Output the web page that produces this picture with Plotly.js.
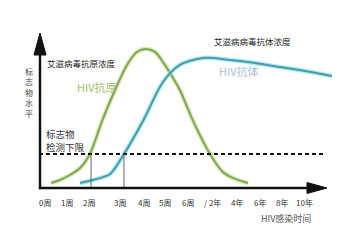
<!DOCTYPE html>
<html><head><meta charset="utf-8">
<script src="https://cdn.plot.ly/plotly-3.0.1.min.js"></script>
<style>html,body{margin:0;padding:0;background:#fff}#c{width:360px;height:242px}</style>
</head><body><div id="c"></div>
<script>
// time axis (schematic index units) and marker levels
const antigenX = [0.26,0.64,1.06,1.49,1.91,2.43,2.98,3.49,3.91,4.30,4.68,5.02,5.40,5.74,6.30,7.02,7.57,8.09,8.64];
const antigenY = [0.33,0.53,0.86,1.32,2.25,4.44,6.49,8.15,9.01,9.21,9.01,8.34,7.42,6.49,4.44,2.25,1.06,0.60,0.33];
const antibodyX = [1.49,2.04,2.77,3.36,4.17,5.02,5.74,6.72,7.87,8.94,10.0,11.06,12.21];
const antibodyY = [0.33,0.53,0.93,2.25,4.44,7.02,8.15,8.61,8.48,8.28,8.01,7.75,7.42];
const detectLimit = 2.25;
const limitRange = [-0.255, 11.91];
const crossX = [1.96, 3.36];
const tickVals = [0,0.94,1.87,3.19,4.21,5.11,6.09,7.11,8.17,9.15,10.09,11.06];
const tickText = ['0周','1周','2周','3周','4周','5周','6周','/ 2年','4年','6年','8年','10年'];
const yTitle = '标志物水平';
const xTitle = 'HIV感染时间';
const limitLabel = ['标志物', '检测下限'];

const F = '"Noto Sans CJK SC", "Noto Sans", sans-serif';
const traces = [];
function curve(x, y, glow, core) {
  traces.push({x, y, mode:'lines', line:{shape:'spline', smoothing:0.8, color:glow, width:4.5}, hoverinfo:'skip'});
  traces.push({x, y, mode:'lines', line:{shape:'spline', smoothing:0.8, color:core, width:2}, hoverinfo:'skip'});
}
curve(antigenX, antigenY, 'rgba(180,225,135,0.6)', '#86a454');
curve(antibodyX, antibodyY, 'rgba(135,230,240,0.7)', '#4b98a6');
traces.push({x: limitRange, y:[detectLimit, detectLimit], mode:'lines', line:{color:'#111', width:2, dash:'4px,3px'}, hoverinfo:'skip'});
crossX.forEach(cx => traces.push({x:[cx,cx], y:[0,detectLimit], mode:'lines', line:{color:'#666', width:1}, hoverinfo:'skip'}));

const ann = [];
tickVals.forEach((v,i) => ann.push({x:v, xref:'x', y:0, yref:'paper', yshift:-14, yanchor:'middle', xanchor:'center', showarrow:false, text:tickText[i], font:{family:F, size:8, color:'#333'}}));
ann.push({x:10.26, xref:'x', y:0, yref:'paper', yshift:-30, yanchor:'middle', showarrow:false, text:xTitle, font:{family:F, size:9, color:'#555'}});
Array.from(yTitle).forEach((ch,i) => ann.push({x:0, xref:'paper', xshift:-15, y:1, yref:'paper', yshift:-(31 + i*10.5), yanchor:'middle', showarrow:false, borderpad:0, text:ch, font:{family:F, size:8, color:'#444'}}));
ann.push({x:1.57, y:8.28, showarrow:false, text:'艾滋病毒抗原浓度', font:{family:F, size:8.5, color:'#222'}});
ann.push({x:2.21, y:6.69, showarrow:false, text:'HIV抗原', font:{family:F, size:11, color:'#a5c06e'}});
ann.push({x:8.81, y:9.74, showarrow:false, text:'艾滋病病毒抗体浓度', font:{family:F, size:8.5, color:'#222'}});
ann.push({x:8.26, y:7.75, showarrow:false, text:'HIV抗体', font:{family:F, size:11, color:'#a9c3d3'}});
ann.push({x:0, y:detectLimit, yshift:20, xanchor:'left', yanchor:'middle', borderpad:0, showarrow:false, text:limitLabel[0], font:{family:F, size:9.5, color:'#333'}});
ann.push({x:0, y:detectLimit, yshift:7, xanchor:'left', yanchor:'middle', borderpad:0, showarrow:false, text:limitLabel[1], font:{family:F, size:9.5, color:'#333'}});

const px = {xref:'paper', yref:'paper', xsizemode:'pixel', ysizemode:'pixel', xanchor:0, yanchor:0};
const shapes = [
  Object.assign({type:'line', x0:1, x1:1, y0:-1.2, y1:135, line:{color:'#111', width:2.5}}, px),
  Object.assign({type:'path', path:'M -5,133 L 1,155 L 7,133 Z', fillcolor:'#111', line:{color:'#111', width:1}}, px),
  Object.assign({type:'line', x0:0, x1:272, y0:0, y1:0, line:{color:'#111', width:2.5}}, px),
  Object.assign({type:'path', path:'M 268,5.5 L 288,0 L 268,-5.5 Z', fillcolor:'#111', line:{color:'#111', width:1}}, px)
];

Plotly.newPlot('c', traces, {
  width:360, height:242, margin:{l:39, r:26, t:40, b:54},
  paper_bgcolor:'#fff', plot_bgcolor:'#fff', showlegend:false,
  xaxis:{range:[-0.255, 12.298], showgrid:false, zeroline:false, showticklabels:false, ticks:''},
  yaxis:{range:[0, 9.801], showgrid:false, zeroline:false, showticklabels:false, ticks:''},
  annotations: ann, shapes: shapes
}, {staticPlot:true, displayModeBar:false});
</script></body></html>
